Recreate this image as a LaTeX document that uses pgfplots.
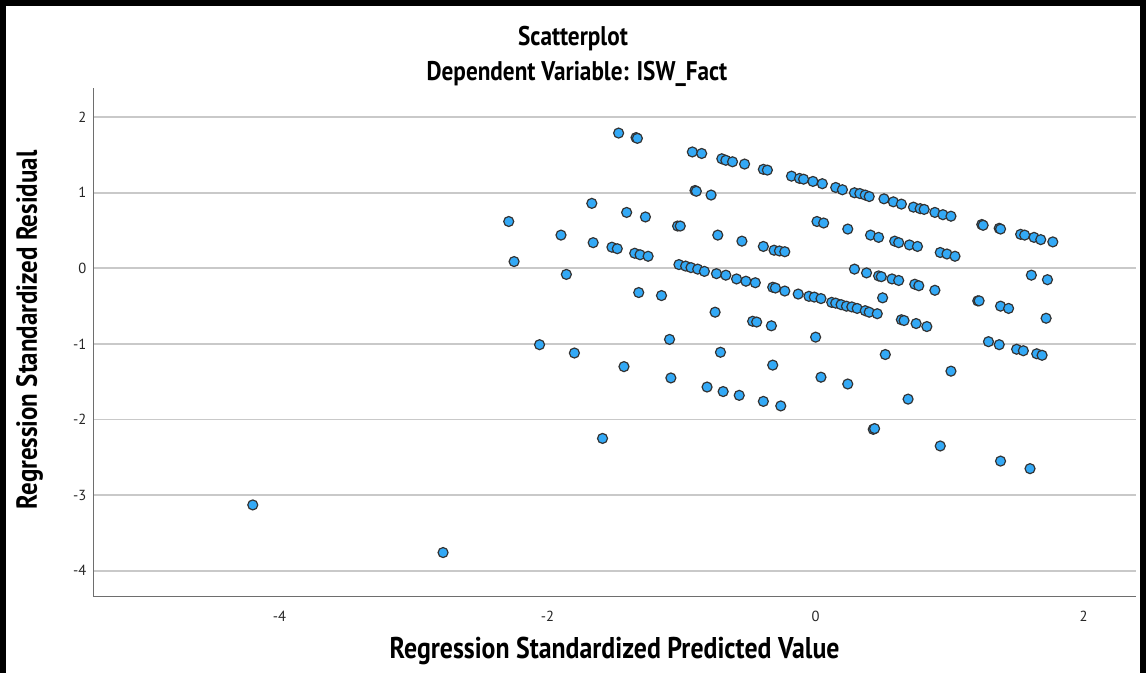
\documentclass[border=0pt]{standalone}
\usepackage{fontspec}
\setmainfont{PT Sans}
\newfontfamily\condfont[FakeStretch=0.86]{PT Sans}
\usepackage{pgfplots}
\pgfplotsset{compat=1.18}
\definecolor{dotblue}{HTML}{33A9F6}
\definecolor{gridgray}{HTML}{C9C9C9}
\definecolor{axisgray}{HTML}{6E6E6E}

\pgfplotstableread{
x y
-4.20 -3.13
-2.78 -3.76
-1.47 1.79
-1.34 1.73
-1.33 1.72
-1.67 0.86
-1.41 0.74
-1.27 0.68
-1.03 0.56
-1.01 0.56
-2.29 0.62
-1.90 0.44
-1.66 0.34
-1.52 0.28
-1.48 0.26
-1.35 0.20
-1.31 0.18
-1.25 0.16
-1.02 0.05
-2.25 0.09
-1.86 -0.08
-1.32 -0.32
-1.15 -0.36
-1.09 -0.94
-2.06 -1.01
-1.80 -1.12
-1.43 -1.30
-1.08 -1.45
-1.59 -2.25
-0.92 1.54
-0.85 1.52
-0.70 1.45
-0.67 1.43
-0.62 1.41
-0.53 1.38
-0.39 1.31
-0.36 1.30
-0.18 1.22
-0.12 1.19
-0.09 1.18
-0.02 1.15
0.05 1.12
0.15 1.07
0.20 1.04
0.29 1.00
0.33 0.99
0.37 0.97
0.40 0.95
0.51 0.92
0.58 0.88
0.64 0.85
0.73 0.81
0.78 0.79
0.81 0.78
0.89 0.74
0.95 0.71
1.01 0.69
1.24 0.58
1.25 0.57
1.37 0.53
1.38 0.52
1.53 0.45
1.56 0.44
1.63 0.41
1.68 0.38
1.77 0.35
-0.90 1.03
-0.89 1.02
-0.78 0.97
-0.73 0.44
-0.55 0.36
-0.39 0.29
-0.31 0.24
-0.27 0.23
-0.23 0.22
0.01 0.62
0.06 0.60
0.24 0.52
0.41 0.44
0.47 0.41
0.59 0.36
0.62 0.34
0.70 0.31
0.76 0.29
0.93 0.21
0.98 0.19
1.04 0.16
-0.97 0.03
-0.93 0.01
-0.88 -0.01
-0.83 -0.04
-0.74 -0.07
-0.67 -0.09
-0.59 -0.14
-0.52 -0.17
-0.45 -0.19
-0.32 -0.25
-0.30 -0.26
-0.23 -0.30
-0.13 -0.34
-0.05 -0.37
-0.01 -0.38
0.04 -0.40
0.12 -0.45
0.15 -0.46
0.19 -0.48
0.23 -0.50
0.27 -0.51
0.31 -0.53
0.37 -0.56
0.40 -0.58
0.46 -0.60
0.29 -0.01
0.38 -0.06
0.47 -0.10
0.49 -0.11
0.57 -0.14
0.62 -0.16
0.74 -0.21
0.77 -0.23
0.89 -0.29
0.50 -0.39
1.61 -0.09
1.73 -0.15
-0.75 -0.58
-0.47 -0.70
-0.44 -0.71
-0.33 -0.76
0.00 -0.91
0.64 -0.68
0.66 -0.69
0.75 -0.73
0.83 -0.77
-0.71 -1.11
-0.32 -1.28
0.52 -1.14
1.01 -1.36
-0.81 -1.57
-0.69 -1.63
-0.57 -1.68
-0.39 -1.76
-0.26 -1.82
0.04 -1.44
0.24 -1.53
0.69 -1.73
0.43 -2.13
0.44 -2.12
0.93 -2.35
1.21 -0.43
1.22 -0.43
1.38 -0.50
1.44 -0.53
1.72 -0.66
1.29 -0.97
1.37 -1.01
1.50 -1.07
1.55 -1.09
1.65 -1.13
1.69 -1.15
1.38 -2.55
1.60 -2.65
}\residuals

\begin{document}
\begin{tikzpicture}
\useasboundingbox (-46.65pt,-38.15pt) rectangle (526.35pt,298.35pt);
\begin{axis}[
  at={(0pt,0pt)},anchor=south west,
  scale only axis,width=521.3pt,height=254.3pt,
  xmin=-5.39,xmax=2.39,ymin=-4.344,ymax=2.385,
  axis x line=bottom,axis y line=left,
  axis line style={-,draw=axisgray,line width=0.7pt},
  xtick={-4,-2,0,2},ytick={-4,-3,-2,-1,0,1,2},
  major tick length=0pt,
  ymajorgrids,grid style={draw=gridgray,line width=0.9pt},
  tick label style={font=\fontsize{7.3}{8}\selectfont,text=black!85},
  xticklabel style={yshift=-3.5pt},
  /pgf/number format/assume math mode=true,
  clip=false,
]
\addplot[only marks,mark=*,mark size=2.5pt,
  mark options={fill=dotblue,draw=black!80,line width=0.6pt}]
  table[x=x,y=y] {\residuals};
\end{axis}
\node[font=\condfont\bfseries\fontsize{13.5}{15}\selectfont] at (239.85pt,279pt) {Scatterplot};
\node[font=\condfont\bfseries\fontsize{13.5}{15}\selectfont] at (241.85pt,261.3pt) {Dependent Variable: ISW\_Fact};
\node[font=\condfont\bfseries\fontsize{15}{17}\selectfont] at (260.65pt,-27.3pt) {Regression Standardized Predicted Value};
\node[rotate=90,font=\condfont\bfseries\fontsize{14.5}{17}\selectfont] at (-31.9pt,133.35pt) {Regression Standardized Residual};
\draw[line width=3pt] (-45.15pt,-40pt) -- (-45.15pt,296.85pt) -- (524.85pt,296.85pt) -- (524.85pt,-40pt);
\end{tikzpicture}
\end{document}
